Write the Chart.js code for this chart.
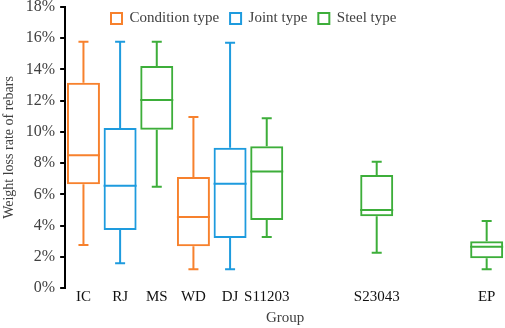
<!DOCTYPE html>
<html>
<head>
<meta charset="utf-8">
<script src="https://cdn.jsdelivr.net/npm/chart.js@4/dist/chart.umd.min.js"></script>
<style>
  html, body { margin: 0; padding: 0; background: #fff; }
  #wrap { width: 505px; height: 328px; position: relative; }
</style>
</head>
<body>
<div id="wrap"><canvas id="c"></canvas></div>
<script>
// empty slots keep the wide gaps before S23043 and EP
const groups = ['IC', 'RJ', 'MS', 'WD', 'DJ', 'S11203', '', '', 'S23043', '', '', 'EP'];
const groupType = ['cond', 'joint', 'steel', 'cond', 'joint', 'steel', null, null, 'steel', null, null, 'steel'];

// box stats in %
const whiskerMin = [2.75, 1.58, 6.49, 1.2, 1.2, 3.27, null, null, 2.26, null, null, 1.2];
const quart1     = [6.64, 3.72, 10.14, 2.67, 3.2, 4.36, null, null, 4.59, null, null, 1.9];
const median     = [8.5, 6.55, 12.04, 4.55, 6.68, 7.47, null, null, 5.0, null, null, 2.65];
const quart3     = [13.15, 10.25, 14.22, 7.11, 8.99, 9.08, null, null, 7.24, null, null, 2.99];
const whiskerMax = [15.78, 15.78, 15.78, 10.95, 15.71, 10.87, null, null, 8.09, null, null, 4.29];

const yTicks = [0, 2, 4, 6, 8, 10, 12, 14, 16, 18];

const types = [
  { key: 'cond', label: 'Condition type', color: '#F7812D' },
  { key: 'joint', label: 'Joint type', color: '#1E9BDE' },
  { key: 'steel', label: 'Steel type', color: '#3DAE3A' },
];

const datasets = types.map(t => ({
  label: t.label,
  data: groups.map((g, i) => groupType[i] === t.key ? [quart1[i], quart3[i]] : null),
  backgroundColor: 'rgba(0,0,0,0)',
  borderColor: t.color,
  borderWidth: 2,
  borderSkipped: false,
  grouped: false,
  categoryPercentage: 1,
  barPercentage: 0.9,
  whiskerColor: t.color,
}));

const boxExtras = {
  id: 'boxExtras',
  afterDatasetsDraw(chart) {
    const { ctx, scales: { x, y } } = chart;
    ctx.save();
    ctx.lineWidth = 2;
    chart.data.datasets.forEach((ds, di) => {
      const meta = chart.getDatasetMeta(di);
      ds.data.forEach((d, i) => {
        if (!d) return;
        const bar = meta.data[i];
        const cx = x.getPixelForValue(i);
        const half = bar.width / 2;
        const cap = 5;
        ctx.strokeStyle = ds.whiskerColor;
        ctx.beginPath();
        // upper whisker
        ctx.moveTo(cx, y.getPixelForValue(quart3[i]));
        ctx.lineTo(cx, y.getPixelForValue(whiskerMax[i]));
        ctx.moveTo(cx - cap, y.getPixelForValue(whiskerMax[i]));
        ctx.lineTo(cx + cap, y.getPixelForValue(whiskerMax[i]));
        // lower whisker
        ctx.moveTo(cx, y.getPixelForValue(quart1[i]));
        ctx.lineTo(cx, y.getPixelForValue(whiskerMin[i]));
        ctx.moveTo(cx - cap, y.getPixelForValue(whiskerMin[i]));
        ctx.lineTo(cx + cap, y.getPixelForValue(whiskerMin[i]));
        // median
        ctx.moveTo(cx - half, y.getPixelForValue(median[i]));
        ctx.lineTo(cx + half, y.getPixelForValue(median[i]));
        ctx.stroke();
      });
    });
    ctx.restore();
  }
};

// legend sits inside the plot, in one row
Chart.Legend._element.prototype.isHorizontal = function () { return true; };
const legendShift = {
  id: 'legendShift',
  afterLayout(chart) {
    const lg = chart.legend;
    if (!lg) return;
    lg.left = 100;
    lg.right = 100 + lg.width;
    lg.top = chart.chartArea.top - 7;
  }
};

const font = { family: '"Liberation Serif", "Times New Roman", serif', size: 15 };

new Chart(document.getElementById('c'), {
  type: 'bar',
  data: { labels: groups, datasets },
  options: {
    responsive: true,
    maintainAspectRatio: false,
    animation: false,
    layout: { autoPadding: false, padding: { top: 7, right: 0, left: 1, bottom: 1 } },
    plugins: {
      tooltip: { enabled: false },
      legend: {
        position: 'chartArea',
        align: 'start',
        labels: {
          boxWidth: 11,
          boxHeight: 11,
          padding: 11,
          color: '#404040',
          font,
        },
      },
    },
    scales: {
      x: {
        offset: true,
        grid: { display: false, drawTicks: false },
        border: { display: false },
        ticks: { color: '#111', font, maxRotation: 0, autoSkip: false, padding: 0 },
        title: { display: true, text: 'Group', color: '#404040', font, padding: { top: 3, bottom: 0 } },
      },
      y: {
        min: 0,
        max: 18,
        afterBuildTicks(axis) { axis.ticks = yTicks.map(v => ({ value: v })); },
        afterFit(axis) { axis.paddingTop = 0; axis.paddingBottom = 0; },
        grid: { drawOnChartArea: false, color: '#000', lineWidth: 2, tickLength: 5 },
        border: { color: '#000', width: 2 },
        ticks: { color: '#404040', font: { ...font, size: 16 }, padding: 5, callback: v => v + '%' },
        title: { display: true, text: 'Weight loss rate of rebars', color: '#404040', font: { ...font, size: 14 }, padding: { top: 0, bottom: 3 } },
      },
    },
  },
  plugins: [boxExtras, legendShift],
});
</script>
</body>
</html>
